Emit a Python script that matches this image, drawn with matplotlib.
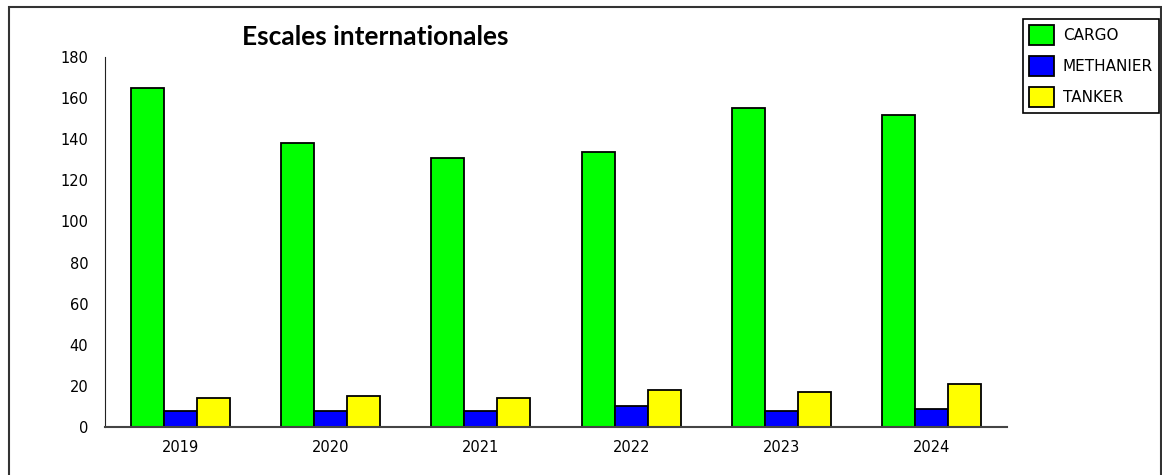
import numpy as np
import matplotlib
matplotlib.use("Agg")
from matplotlib import pyplot as plt
from matplotlib.patches import Rectangle

# Données
years = ["2019", "2020", "2021", "2022", "2023", "2024"]
cargo = [165, 138, 131, 134, 155, 152]
methanier = [8, 8, 8, 10, 8, 9]
tanker = [14, 15, 14, 18, 17, 21]

series = {
    "CARGO": cargo,
    "METHANIER": methanier,
    "TANKER": tanker,
}
colors = {
    "CARGO": "#00ff00",
    "METHANIER": "#0000ff",
    "TANKER": "#ffff00",
}

fig = plt.figure(figsize=(11.62, 4.75), dpi=100)
ax = fig.add_axes([0.0904, 0.101, 0.7762, 0.779])

x = np.arange(len(years))
width = 0.22
for i, (name, values) in enumerate(series.items()):
    ax.bar(x + (i - 1) * width, values, width,
           color=colors[name], edgecolor="black", linewidth=1.3,
           label=name)

ax.set_xlim(-0.5, len(years) - 0.5)
ax.set_ylim(0, 180)
ax.set_yticks(np.arange(0, 181, 20))
ax.set_xticks(x)
ax.set_xticklabels(years)
ax.tick_params(length=0, labelsize=10.5, colors="black")
ax.tick_params(axis="y", pad=12)
ax.tick_params(axis="x", pad=9)
for s in ["top", "right"]:
    ax.spines[s].set_visible(False)
ax.spines["left"].set_color("#222222")
ax.spines["bottom"].set_color("#444444")
ax.spines["bottom"].set_linewidth(1.5)

# Titre
fig.text(0.323, 0.922, "Escales internationales", ha="center", va="center",
         fontsize=19, fontweight="bold", family="Lato")

# Légende
leg = fig.legend(loc="upper right", bbox_to_anchor=(1159 / 1162, 1 - 19 / 475),
                 fontsize=11, fancybox=False, framealpha=1,
                 edgecolor="black", handlelength=1.65, handleheight=1.6,
                 handletextpad=0.55, labelspacing=0.75, borderpad=0.4,
                 borderaxespad=0)
leg.get_frame().set_linewidth(1.2)

# Cadre extérieur
fig.patches.append(Rectangle((9 / 1162, -0.1), 1152 / 1162, 1.1 - 7 / 475,
                             transform=fig.transFigure, fill=False,
                             edgecolor="#333333", linewidth=1.5))

fig.savefig("out.png", dpi=100)
